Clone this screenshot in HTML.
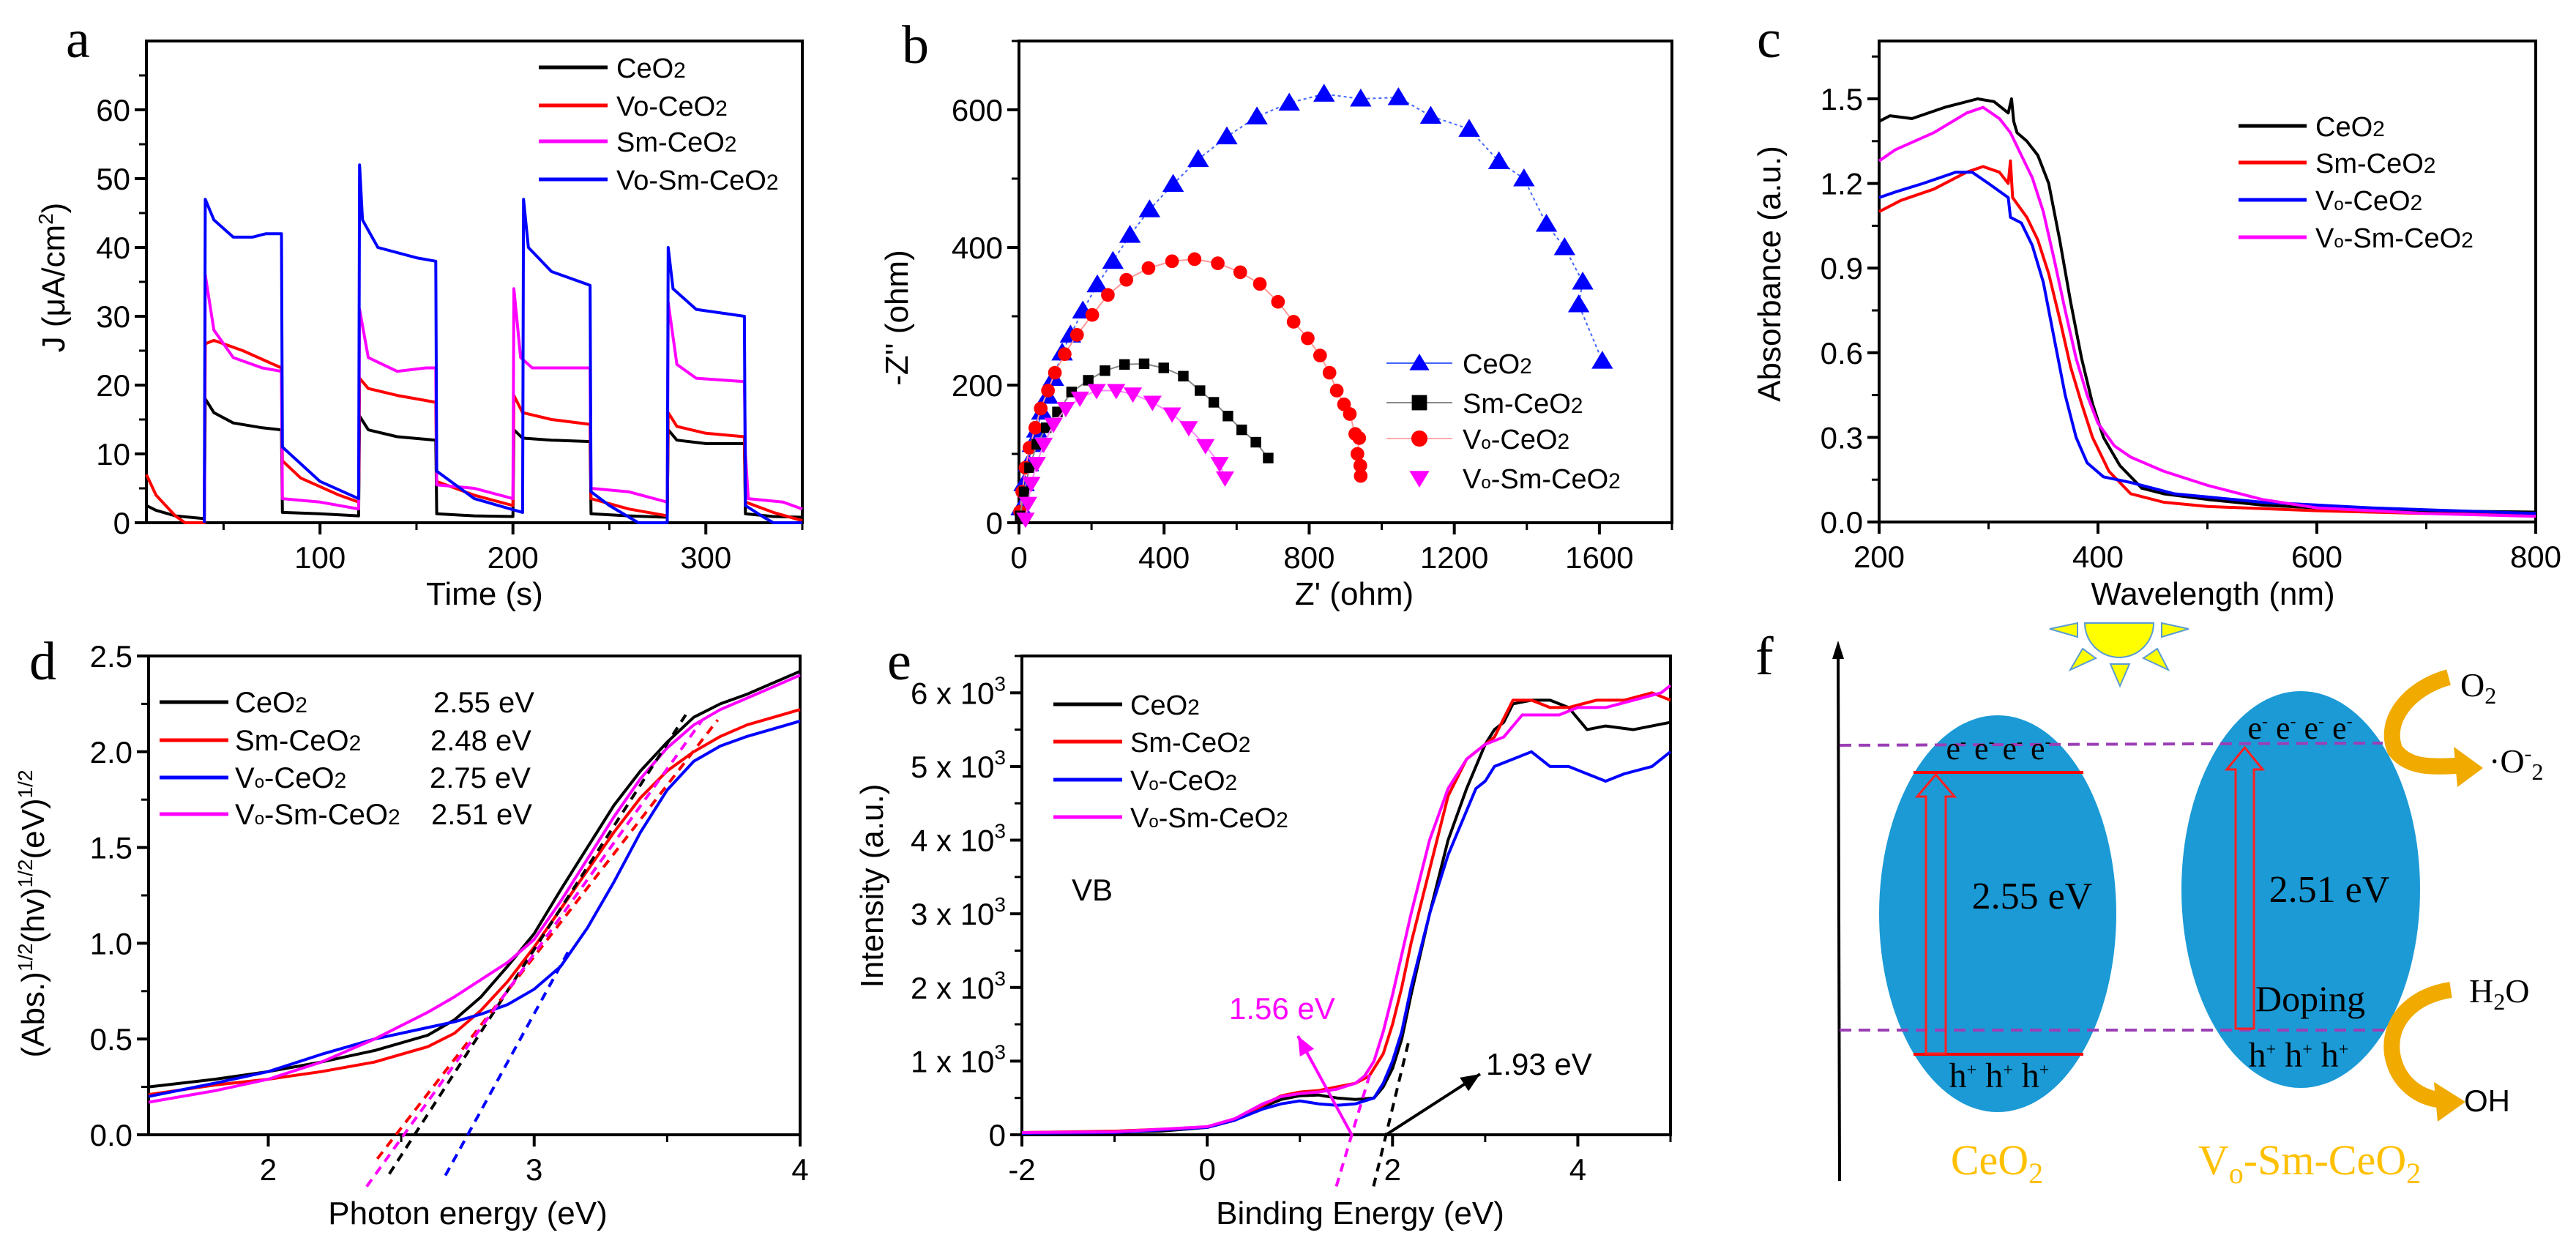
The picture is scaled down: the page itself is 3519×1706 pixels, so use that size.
<!DOCTYPE html>
<html><head><meta charset="utf-8"><title>CeO2 figure</title>
<style>
html,body{margin:0;padding:0;background:#fff;}
svg{display:block;font-family:"Liberation Sans",sans-serif;}
.serif{font-family:"Liberation Serif",serif;}
</style></head>
<body>
<svg id="fig" xmlns="http://www.w3.org/2000/svg" width="3519" height="1706" viewBox="0 0 3519 1706">
<rect x="0" y="0" width="3519" height="1706" fill="#fff"/>
</svg>
<script>
// ---------- Panel a data ----------
const aCeO2X=[10,15,25,40,40.5,45,55,70,80,80.5,100,120,120.5,125,140,160,160.5,180,200,200.5,205,220,240,240.5,260,280,280.5,285,300,320,320.5,335,350];
const aCeO2Y=[2.5,1.8,1,0.6,18,16,14.5,13.8,13.5,1.5,1.3,1.0,15.5,13.5,12.5,12,1.3,1.0,0.9,13.5,12.3,12,11.8,1.3,1.0,0.8,13.5,12,11.5,11.5,1.3,0.9,0.8];
const aVoX=[10,15,25,30,40,40.5,45,60,80,80.5,90,110,120,120.5,125,140,160,160.5,180,200,200.5,205,220,240,240.5,260,280,280.5,285,300,320,320.5,335,350];
const aVoY=[7,4,1,0,0,26,26.5,25,22.5,9,6.5,4,3,21,19.5,18.5,17.5,6,4,2.5,18.5,16,15,14.3,3.5,2,1,16,14,13,12.5,3,1.5,0.3];
const aSmX=[40,40.5,45,55,70,80,80.5,100,120,120.5,125,140,155,160,160.5,180,200,200.5,204,210,240,240.5,260,280,280.5,285,295,320,320.5,322,340,350];
const aSmY=[0,36,28,24,22.5,22,3.5,3,2,31,24,22,22.5,22.5,5.5,5,3.5,34,24,22.5,22.5,5,4.5,3,32,23,21,20.5,10,3.5,3,2];
const aVoSmX=[40,40.5,45,55,65,72,80,80.5,100,120,120.5,122,130,150,160,160.5,180,205,205.5,208,220,240,240.5,250,265,280,280.5,283,295,320,320.5,330,335,350];
const aVoSmY=[0,47,44,41.5,41.5,42,42,11,6,3.5,52,44,40,38.5,38,7.5,3.5,1.5,47,40,36.5,34.5,4.5,2.5,0,0,40,34,31,30,2.5,0.8,0,0];
const aXTicks=[100,200,300];
const aYTicks=[0,10,20,30,40,50,60];
// ---------- Panel b data ----------
const bCeO2X=[6,14,26,37,49,63,79,95,119,142,176,216,259,306,360,425,494,573,656,745,841,942,1046,1135,1241,1323,1392,1454,1504,1554,1543,1608];
const bCeO2Y=[22,57,86,114,135,161,184,210,247,273,308,346,380,418,455,492,528,561,590,610,623,616,618,591,572,525,500,434,400,350,317,235];
const bSmX=[3,14,29,49,75,106,145,191,237,291,345,399,453,499,537,576,614,653,687];
const bSmY=[10,45,80,114,138,161,190,207,221,230,231,225,213,192,175,155,135,117,94];
const bVoX=[3,9,18,29,45,60,80,99,126,160,202,245,296,357,422,484,548,610,664,714,757,796,830,856,876,896,912,927,938,933,941,942];
const bVoY=[16,45,80,109,138,166,192,218,245,273,302,331,353,370,380,383,377,364,347,321,292,268,243,218,192,172,158,129,123,100,83,68];
const bVoSmX=[18,25,34,49,68,95,129,168,214,268,314,368,422,468,514,553,568];
const bVoSmY=[5,28,57,86,114,143,166,181,192,192,187,175,158,138,112,86,65];
const bXTicks=[0,400,800,1200,1600];
const bYTicks=[0,200,400,600];
// ---------- Panel c data ----------
const cCeO2X=[200,210,230,260,290,305,318,321,323,326,335,345,355,365,375,385,395,405,420,440,460,500,550,600,700,800];
const cCeO2Y=[1.42,1.44,1.43,1.47,1.50,1.49,1.45,1.50,1.42,1.38,1.35,1.30,1.20,1.0,0.78,0.58,0.42,0.30,0.20,0.12,0.10,0.08,0.06,0.05,0.04,0.035];
const cSmX=[200,220,250,280,295,310,318,320,322,335,345,355,365,375,385,395,410,430,460,500,600,700,800];
const cSmY=[1.10,1.14,1.18,1.24,1.26,1.24,1.20,1.28,1.15,1.08,1.0,0.88,0.72,0.55,0.42,0.30,0.18,0.10,0.07,0.055,0.04,0.03,0.025];
const cVoX=[200,215,240,270,285,300,318,320,330,340,350,360,370,380,390,405,430,470,550,650,800];
const cVoY=[1.15,1.17,1.20,1.24,1.24,1.20,1.15,1.08,1.06,0.98,0.85,0.65,0.45,0.30,0.21,0.16,0.14,0.10,0.07,0.05,0.03];
const cVoSmX=[200,215,250,280,295,310,320,330,340,350,360,370,380,390,400,415,430,460,500,550,600,700,800];
const cVoSmY=[1.28,1.32,1.38,1.45,1.47,1.43,1.38,1.30,1.22,1.10,0.93,0.75,0.58,0.45,0.35,0.27,0.23,0.18,0.13,0.08,0.05,0.03,0.02];
const cXTicks=[200,400,600,800];
const cYTicks=[0,0.3,0.6,0.9,1.2,1.5];
// ---------- Panel d data ----------
const dX=[1.55,1.8,2.0,2.2,2.4,2.6,2.7,2.8,2.9,3.0,3.1,3.2,3.3,3.4,3.5,3.6,3.7,3.8,3.9,4.0];
const dCeO2Y=[0.25,0.29,0.33,0.38,0.44,0.52,0.6,0.72,0.88,1.05,1.28,1.5,1.72,1.9,2.05,2.18,2.25,2.30,2.36,2.42];
const dSmY=[0.21,0.26,0.29,0.33,0.38,0.46,0.53,0.65,0.8,0.98,1.18,1.38,1.58,1.76,1.9,2.0,2.08,2.14,2.18,2.22];
const dVoY=[0.2,0.27,0.33,0.42,0.5,0.56,0.59,0.63,0.68,0.76,0.88,1.08,1.32,1.58,1.8,1.95,2.03,2.08,2.12,2.16];
const dVoSmY=[0.17,0.23,0.29,0.38,0.5,0.64,0.72,0.81,0.9,1.02,1.22,1.44,1.66,1.86,2.02,2.14,2.22,2.28,2.34,2.40];
const dGaps=[2.55,2.48,2.75,2.51];
const dSlopes=[2.15,1.79,2.53,1.93];
const dFitEnd=[3.57,3.69,3.13,3.63];
const dFitStart=[2.455,2.41,2.666,2.37];
const dXTicks=[2,3,4];
const dYTicks=[0,0.5,1.0,1.5,2.0,2.5];
// ---------- Panel e data ----------
const eCeO2X=[-2,-1,-0.5,0,0.3,0.6,0.8,1.0,1.2,1.4,1.6,1.8,1.9,2.0,2.1,2.2,2.4,2.6,2.8,3.0,3.1,3.2,3.3,3.5,3.7,3.9,4.1,4.3,4.6,5.0];
const eCeO2Y=[30,40,50,100,200,380,480,530,540,500,480,500,650,900,1300,1900,3000,4000,4700,5300,5500,5600,5850,5900,5900,5800,5500,5550,5500,5600];
const eSmX=[-2,-1,0,0.3,0.6,0.8,1.0,1.2,1.4,1.6,1.75,1.9,2.0,2.1,2.2,2.4,2.6,2.8,3.0,3.1,3.3,3.5,3.7,3.9,4.2,4.5,4.8,5.0];
const eSmY=[30,50,100,200,400,530,580,600,650,700,800,1100,1500,2000,2600,3600,4600,5100,5300,5400,5900,5900,5800,5800,5900,5900,6000,5900];
const eVoX=[-2,-1,0,0.3,0.6,0.8,1.0,1.2,1.4,1.6,1.8,1.9,2.0,2.1,2.2,2.4,2.6,2.8,2.9,3.0,3.1,3.3,3.5,3.7,3.9,4.1,4.3,4.5,4.8,5.0];
const eVoY=[20,30,100,200,350,420,460,420,400,420,500,700,1000,1400,2000,3000,3800,4400,4700,4800,5000,5100,5200,5000,5000,4900,4800,4900,5000,5200];
const eVoSmX=[-2,-1,0,0.3,0.6,0.8,1.0,1.2,1.4,1.6,1.7,1.8,1.9,2.0,2.2,2.4,2.6,2.8,3.0,3.2,3.4,3.6,3.8,4.0,4.3,4.6,4.9,5.0];
const eVoSmY=[30,40,110,220,420,520,560,580,620,700,800,1000,1400,1900,3000,4000,4700,5100,5300,5400,5700,5700,5700,5800,5800,5900,6000,6100];
const eEdges=[1.56,1.93];
const eEdgeSlopes=[4200,5200];
const eXTicks=[-2,0,2,4];
const eYTicks=[0,1000,2000,3000,4000,5000,6000];

const NS='http://www.w3.org/2000/svg';
const svg=document.getElementById('fig');
function mk(tag,attrs,parent){const e=document.createElementNS(NS,tag);for(const k in attrs)e.setAttribute(k,attrs[k]);(parent||svg).appendChild(e);return e;}
function lin(d0,d1,p0,p1){return v=>p0+(v-d0)/(d1-d0)*(p1-p0);}
const BLK='#000',RED='#ff0000',BLU='#0000ff',MAG='#ff00ff';

function axes(c){
  const g=mk('g',{});
  
  
  const sx=lin(c.xmin,c.xmax,c.L,c.R), sy=lin(c.ymin,c.ymax,c.B,c.T);
  const fr=mk('rect',{x:c.L,y:c.T,width:c.R-c.L,height:c.B-c.T,fill:'none',stroke:'#000','stroke-width':4},g);
  
  
  c.xmajor.forEach(v=>{const t=mk('line',{x1:sx(v),x2:sx(v),y1:c.B,y2:c.B+16,stroke:'#000','stroke-width':4},g);
    
    });
  c.xminor.forEach(v=>{const t=mk('line',{x1:sx(v),x2:sx(v),y1:c.B,y2:c.B+10,stroke:'#000','stroke-width':3},g);
    
    });
  c.ymajor.forEach(v=>{const t=mk('line',{x1:c.L-16,x2:c.L,y1:sy(v),y2:sy(v),stroke:'#000','stroke-width':4},g);
    
    });
  c.yminor.forEach(v=>{const t=mk('line',{x1:c.L-10,x2:c.L,y1:sy(v),y2:sy(v),stroke:'#000','stroke-width':3},g);
    
    });
  c.xlab.forEach(v=>{const t=mk('text',{x:sx(v),y:c.B+62,'text-anchor':'middle','font-size':42},g);
    t.textContent=c.xfmt?c.xfmt(v):String(v);
    
    });
  c.ylab.forEach(v=>{const t=mk('text',{x:c.L-22,y:sy(v)+15,'text-anchor':'end','font-size':42},g);
    if(c.yhtml){c.yhtml(t,v);}else{t.textContent=c.yfmt?c.yfmt(v):String(v);}
    
    });
  const xt=mk('text',{x:c.xtx,y:c.xty,'text-anchor':'middle','font-size':44},g);
  xt.innerHTML=c.xtitle;
  
  
  const yt=mk('text',{x:0,y:0,'text-anchor':'middle','font-size':44,transform:`translate(${c.ytx},${c.yty}) rotate(-90)`},g);
  yt.innerHTML=c.ytitle;
  
  
  const pl=mk('text',{x:c.lx,y:c.ly,'font-size':74,class:'serif'},g);
  pl.textContent=c.letter;
  
  
  return {g,sx,sy};
}
function curve(ax,xs,ys,color,w,name,dash){
  const pts=xs.map((x,i)=>ax.sx(x).toFixed(1)+','+ax.sy(ys[i]).toFixed(1)).join(' ');
  const p=mk('polyline',{points:pts,fill:'none',stroke:color,'stroke-width':w,'stroke-linejoin':'round'},ax.g);
  if(dash)p.setAttribute('stroke-dasharray',dash);
  
  
  return p;
}
function marker(g,type,x,y,color,s){
  let m;
  if(type==='tri') m=mk('polygon',{points:`${x},${y-s} ${x-s*1.05},${y+s*0.75} ${x+s*1.05},${y+s*0.75}`,fill:color},g);
  else if(type==='dtri') m=mk('polygon',{points:`${x},${y+s} ${x-s*1.05},${y-s*0.75} ${x+s*1.05},${y-s*0.75}`,fill:color},g);
  else if(type==='sq') m=mk('rect',{x:x-s*0.8,y:y-s*0.8,width:s*1.6,height:s*1.6,fill:color},g);
  else m=mk('circle',{cx:x,cy:y,r:s*0.85,fill:color},g);
  return m;
}
function lab(name,sub2){ // returns html
  return name;
}
const S2='<tspan font-size="30">2</tspan>';
const VO='V<tspan font-size="24">o</tspan>';
function legend(g,items,lx1,lx2,tx,ys,fs,mtype){
  items.forEach((it,i)=>{
    const l=mk('line',{x1:lx1,x2:lx2,y1:ys[i],y2:ys[i],stroke:it.c,'stroke-width':it.w||5},g);
    
    
    if(it.m){const m=marker(g,it.m,(lx1+lx2)/2,ys[i],it.mc||it.c,13);
      
      }
    const t=mk('text',{x:tx,y:ys[i]+14,'font-size':fs},g);
    t.innerHTML=it.t;
    
    
  });
}
function range(a,b,s){const r=[];for(let v=a;v<=b+1e-9;v+=s)r.push(+v.toFixed(4));return r;}

// ---------- Panel a ----------
const A=axes({name:'panel-a',L:200,R:1096,T:56,B:714,xmin:10,xmax:350,ymin:0,ymax:70,
  xmajor:aXTicks,xminor:[50,150,250,350],ymajor:aYTicks,yminor:range(5,65,10),xlab:aXTicks,ylab:aYTicks,
  xtitle:'Time (s)',xtx:662,xty:826,ytitle:'J (μA/cm<tspan font-size="28" dy="-16">2</tspan><tspan dy="16">)</tspan>',ytx:88,yty:379,letter:'a',lx:90,ly:78});
curve(A,aCeO2X,aCeO2Y,BLK,4,'series-ceo2');
curve(A,aVoX,aVoY,RED,4,'series-vo-ceo2');
curve(A,aSmX,aSmY,MAG,4,'series-sm-ceo2');
curve(A,aVoSmX,aVoSmY,BLU,4,'series-vo-sm-ceo2');
legend(A.g,[{t:'CeO'+S2,c:BLK},{t:'Vo-CeO'+S2,c:RED},{t:'Sm-CeO'+S2,c:MAG},{t:'Vo-Sm-CeO'+S2,c:BLU}],736,830,842,[92,144,193,245],38);

// ---------- Panel b ----------
const B=axes({name:'panel-b',L:1392,R:2284,T:56,B:714,xmin:0,xmax:1800,ymin:0,ymax:700,
  xmajor:bXTicks,xminor:[200,600,1000,1400,1800],ymajor:bYTicks,yminor:[100,300,500,700],xlab:bXTicks,ylab:bYTicks,
  xtitle:"Z' (ohm)",xtx:1850,xty:826,ytitle:"-Z'' (ohm)",ytx:1240,yty:434,letter:'b',lx:1232,ly:86});
function scatter(ax,xs,ys,color,type,s,name,lineColor,dash){
  curve(ax,xs,ys,lineColor,2,name+'-line',dash);
  xs.forEach((x,i)=>{const m=marker(ax.g,type,ax.sx(x),ax.sy(ys[i]),color,s);
    
    });
}
scatter(B,bCeO2X,bCeO2Y,BLU,'tri',14,'series-ceo2','#4466ff','4,4');
scatter(B,bVoX,bVoY,RED,'circ',11,'series-vo-ceo2','#ff9999');
scatter(B,bSmX,bSmY,BLK,'sq',9,'series-sm-ceo2','#888');
scatter(B,bVoSmX,bVoSmY,MAG,'dtri',12,'series-vo-sm-ceo2','#ff88ff');
legend(B.g,[{t:'CeO'+S2,c:'#4466ff',w:2,m:'tri',mc:BLU},{t:'Sm-CeO'+S2,c:'#888',w:2,m:'sq',mc:BLK},{t:VO+'-CeO'+S2,c:'#ffaaaa',w:2,m:'circ',mc:RED},{t:VO+'-Sm-CeO'+S2,c:'#fff',w:0,m:'dtri',mc:MAG}],1894,1984,1998,[496,550,599,653],38);

// ---------- Panel c ----------
const C=axes({name:'panel-c',L:2567,R:3464,T:56,B:713,xmin:200,xmax:800,ymin:0,ymax:1.705,
  xmajor:cXTicks,xminor:[300,500,700],ymajor:cYTicks,yminor:[0.15,0.45,0.75,1.05,1.35,1.65],xlab:cXTicks,ylab:cYTicks,yfmt:v=>v.toFixed(1),
  xtitle:'Wavelength (nm)',xtx:3023,xty:826,ytitle:'Absorbance (a.u.)',ytx:2432,yty:374,letter:'c',lx:2400,ly:78});
curve(C,cCeO2X,cCeO2Y,BLK,4,'series-ceo2');
curve(C,cSmX,cSmY,RED,4,'series-sm-ceo2');
curve(C,cVoX,cVoY,BLU,4,'series-vo-ceo2');
curve(C,cVoSmX,cVoSmY,MAG,4,'series-vo-sm-ceo2');
legend(C.g,[{t:'CeO'+S2,c:BLK},{t:'Sm-CeO'+S2,c:RED},{t:VO+'-CeO'+S2,c:BLU},{t:VO+'-Sm-CeO'+S2,c:MAG}],3058,3151,3163,[172,222,273,324],38);

// ---------- Panel d ----------
const D=axes({name:'panel-d',L:203,R:1093,T:896,B:1550,xmin:1.55,xmax:4,ymin:0,ymax:2.5,
  xmajor:dXTicks,xminor:[2.5,3.5],ymajor:dYTicks,yminor:[0.25,0.75,1.25,1.75,2.25],xlab:dXTicks,ylab:dYTicks,yfmt:v=>v.toFixed(1),
  xtitle:'Photon energy (eV)',xtx:639,xty:1672,ytitle:'(Abs.)<tspan font-size="28" dy="-16">1/2</tspan><tspan dy="16">(hv)</tspan><tspan font-size="28" dy="-16">1/2</tspan><tspan dy="16">(eV)</tspan><tspan font-size="28" dy="-16">1/2</tspan>',ytx:60,yty:1248,letter:'d',lx:40,ly:928});
const dCols=[BLK,RED,BLU,MAG];
curve(D,dX,dCeO2Y,BLK,4,'series-ceo2');
curve(D,dX,dSmY,RED,4,'series-sm-ceo2');
curve(D,dX,dVoY,BLU,4,'series-vo-ceo2');
curve(D,dX,dVoSmY,MAG,4,'series-vo-sm-ceo2');
dGaps.forEach((g0,i)=>{
  const xs=[dFitStart[i],dFitEnd[i]];
  const ys=xs.map(x=>dSlopes[i]*(x-g0));
  curve(D,xs,ys,dCols[i],4,'tangent-fit',"12,9");
});
legend(D.g,[{t:'CeO'+S2,c:BLK},{t:'Sm-CeO'+S2,c:RED},{t:VO+'-CeO'+S2,c:BLU},{t:VO+'-Sm-CeO'+S2,c:MAG}],218,312,321,[959,1011,1062,1112],40);
['2.55 eV','2.48 eV','2.75 eV','2.51 eV'].forEach((s,i)=>{
  const t=mk('text',{x:[592,588,587,589][i],y:[959,1011,1062,1112][i]+14,'font-size':40},D.g);
  t.textContent=s;
  
  
});

// ---------- Panel e ----------
const E=axes({name:'panel-e',L:1396,R:2282,T:896,B:1550,xmin:-2,xmax:5,ymin:0,ymax:6500,
  xmajor:eXTicks,xminor:[-1,1,3,5],ymajor:eYTicks,yminor:range(500,6500,1000),xlab:eXTicks,ylab:eYTicks,
  yhtml:(t,v)=>{t.innerHTML=v===0?'0':(v/1000)+' x 10<tspan font-size="28" dy="-18">3</tspan>';},
  xtitle:'Binding Energy (eV)',xtx:1858,xty:1672,ytitle:'Intensity (a.u.)',ytx:1206,yty:1210,letter:'e',lx:1212,ly:928});
curve(E,eCeO2X,eCeO2Y,BLK,4,'series-ceo2');
curve(E,eSmX,eSmY,RED,4,'series-sm-ceo2');
curve(E,eVoX,eVoY,BLU,4,'series-vo-ceo2');
curve(E,eVoSmX,eVoSmY,MAG,4,'series-vo-sm-ceo2');
[MAG,BLK].forEach((col,i)=>{
  const ys=[-700,i===0?900:1250];
  const xs=ys.map(y=>eEdges[i]+y/eEdgeSlopes[i]);
  curve(E,xs,ys,col,4,'edge-extrapolation',"12,9");
});
legend(E.g,[{t:'CeO'+S2,c:BLK},{t:'Sm-CeO'+S2,c:RED},{t:VO+'-CeO'+S2,c:BLU},{t:VO+'-Sm-CeO'+S2,c:MAG}],1439,1533,1544,[962,1013,1065,1116],38);
function arrow(g,x1,y1,x2,y2,col,name){
  const l=mk('line',{x1,y1,x2,y2,stroke:col,'stroke-width':4},g);
  
  
  const a=Math.atan2(y2-y1,x2-x1),L=26,W=11;
  const p=mk('polygon',{points:`${x2},${y2} ${x2-L*Math.cos(a)+W*Math.sin(a)},${y2-L*Math.sin(a)-W*Math.cos(a)} ${x2-L*Math.cos(a)-W*Math.sin(a)},${y2-L*Math.sin(a)+W*Math.cos(a)}`,fill:col},g);
  
  
}
arrow(E.g,E.sx(eEdges[0]),E.sy(0),1773,1415,MAG,'vb-arrow-vo-sm');
arrow(E.g,E.sx(eEdges[1]),E.sy(0),2022,1467,BLK,'vb-arrow-ceo2');
[['VB',1464,1230,BLK],['1.56 eV',1679,1392,MAG],['1.93 eV',2030,1468,BLK]].forEach(a=>{
  const t=mk('text',{x:a[1],y:a[2],'font-size':42,fill:a[3]},E.g);
  t.textContent=a[0];
  
  
});
</script>
<script>
// ---------- Panel f schematic ----------
(function(){
const g=mk('g',{});


function T(txt,x,y,fs,opts,name){const t=mk('text',Object.assign({x,y,'font-size':fs,class:'serif'},opts||{}),g);t.innerHTML=txt;
  
  return t;}
T('f',2398,921,74,{},'panel-label');
const ax=mk('line',{x1:2513,y1:1613,x2:2511,y2:895,stroke:'#000','stroke-width':4},g);


const ah=mk('polygon',{points:'2511,875 2503,900 2519,900',fill:'#000'},g);


// sun
const sun=mk('path',{d:'M2848,851 A47,47 0 0 0 2942,851 Z',fill:'#ffff00',stroke:'#5b9bd5','stroke-width':2},g);


[['2800,859 2838,851 2838,870'],['2990,859 2953,851 2953,870'],['2828,915 2845,886 2863,899'],['2962,915 2947,886 2928,899'],['2896,937 2883,907 2909,907']].forEach(p=>{
  const r=mk('polygon',{points:p[0],fill:'#ffff00',stroke:'#5b9bd5','stroke-width':2},g);
  
  
});
const e1=mk('ellipse',{cx:2729,cy:1248,rx:162,ry:271,fill:'#1b9ad6'},g);


const e2=mk('ellipse',{cx:3143,cy:1215,rx:163,ry:271,fill:'#1b9ad6'},g);


[[1018,1015,3255],[1407,1407,3262]].forEach(d=>{
  const l=mk('line',{x1:2513,y1:d[0],x2:d[2],y2:d[1],stroke:'#9b3fb5','stroke-width':4,'stroke-dasharray':'16,10'},g);
  
  
});
[1055,1440].forEach(y=>{
  const l=mk('line',{x1:2614,y1:y,x2:2846,y2:y,stroke:'#ff0000','stroke-width':4},g);
  
  
});
function hollowArrow(x0,x1,yb,yt,name){
  const mx=(x0+x1)/2;
  const p=mk('path',{d:`M${x0},${yb} L${x0},${yt+30} L${x0-12},${yt+30} L${mx},${yt} L${x1+12},${yt+30} L${x1},${yt+30} L${x1},${yb} Z`,fill:'none',stroke:'#ff2020','stroke-width':3},g);
  
  
}
hollowArrow(2631,2658,1439,1058,'excitation-arrow-ceo2');
hollowArrow(3054,3079,1405,1021,'excitation-arrow-vo-sm-ceo2');
const em='e<tspan font-size="24" dy="-16">-</tspan><tspan dy="16"> </tspan>';
T(em+em+em+'e<tspan font-size="24" dy="-16">-</tspan>',2730,1037,44,{'text-anchor':'middle'},'electrons-ceo2');
T(em+em+em+'e<tspan font-size="24" dy="-16">-</tspan>',3142,1009,44,{'text-anchor':'middle'},'electrons-vo-sm-ceo2');
const hp='h<tspan font-size="24" dy="-16">+</tspan><tspan dy="16"> </tspan>';
T(hp+hp+'h<tspan font-size="24" dy="-16">+</tspan>',2731,1485,48,{'text-anchor':'middle'},'holes-ceo2');
T(hp+hp+'h<tspan font-size="24" dy="-16">+</tspan>',3140,1457,48,{'text-anchor':'middle'},'holes-vo-sm-ceo2');
T('2.55 eV',2776,1241,52,{'text-anchor':'middle'},'band-gap-ceo2');
T('2.51 eV',3182,1232,52,{'text-anchor':'middle'},'band-gap-vo-sm-ceo2');
T('Doping',3081,1381,50,{},'doping-label');
T('O<tspan font-size="32" dy="10">2</tspan>',3361,951,46,{},'o2-label');
T('·O<tspan font-size="30" dy="-16">-</tspan><tspan font-size="32" dy="26">2</tspan>',3400,1055,46,{},'superoxide-label');
T('H<tspan font-size="32" dy="10">2</tspan><tspan dy="-10">O</tspan>',3373,1369,46,{},'h2o-label');
const oh=mk('text',{x:3352,y:1518,'font-size':42},g);
oh.textContent='·OH';


T('CeO<tspan font-size="40" dy="12">2</tspan>',2728,1604,58,{'text-anchor':'middle',fill:'#ffc000'},'ceo2-title');
T('V<tspan font-size="40" dy="12">o</tspan><tspan dy="-12">-Sm-CeO</tspan><tspan font-size="40" dy="12">2</tspan>',3155,1604,58,{'text-anchor':'middle',fill:'#ffc000'},'vo-sm-ceo2-title');
function orange(d,head,name){
  const p=mk('path',{d,fill:'none',stroke:'#f0aa00','stroke-width':22},g);
  
  
  const h=mk('polygon',{points:head,fill:'#f0aa00'},g);
  
  
}
orange('M3345,925 C3290,940 3255,985 3272,1025 C3290,1048 3320,1048 3355,1046','3352,1020 3392,1049 3357,1075','reduction-arrow');
orange('M3348,1352 C3295,1360 3262,1395 3268,1440 C3275,1480 3305,1498 3330,1502','3325,1478 3368,1505 3330,1532','oxidation-arrow');
})();
</script>
</body></html>
